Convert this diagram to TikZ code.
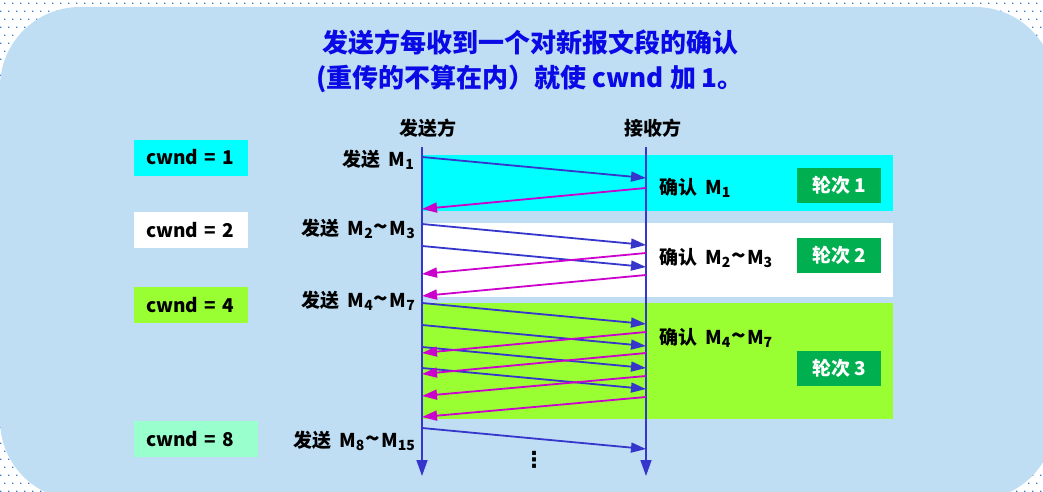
\documentclass[tikz,border=0pt]{standalone}
\usepackage{fontspec}
\setmainfont{Noto Sans CJK SC}
\newfontfamily\dotsfont{DejaVu Sans}
\usetikzlibrary{arrows.meta,positioning,patterns}
\definecolor{backblue}{HTML}{BFDEF3}
\definecolor{dotblue}{HTML}{3A7BD5}
\definecolor{titleblue}{HTML}{0A0AE6}
\definecolor{msgblue}{HTML}{3636CC}
\definecolor{ackpink}{HTML}{CC00CC}
\definecolor{bandcyan}{HTML}{00FFFF}
\definecolor{bandgreen}{HTML}{99FF33}
\definecolor{mint}{HTML}{99FFCC}
\definecolor{roundgreen}{HTML}{00B050}
\newcommand{\msub}[1]{\raisebox{-0.3ex}{\fontsize{14pt}{14pt}\selectfont #1}}
\newcommand{\wavy}{\hspace{1pt}{\fontsize{24pt}{24pt}\selectfont\textasciitilde}\hspace{1pt}}
\newcommand{\gap}{\hspace{8pt}}
\pgfdeclarepatternformonly{bgdots}{\pgfqpoint{-1pt}{-1pt}}{\pgfqpoint{9pt}{17pt}}{\pgfqpoint{8pt}{16pt}}{%
  \pgfpathrectangle{\pgfqpoint{0pt}{0pt}}{\pgfqpoint{1.3pt}{1.3pt}}%
  \pgfpathrectangle{\pgfqpoint{4pt}{8pt}}{\pgfqpoint{1.3pt}{1.3pt}}%
  \pgfusepath{fill}}
\begin{document}
\begin{tikzpicture}[x=1pt, y=-1pt, every node/.style={font=\fontsize{19pt}{22pt}\selectfont\bfseries, inner sep=0pt},
  msg/.style={-{Triangle[length=15pt,width=10pt]}, msgblue, line width=1.8pt},
  ack/.style={-{Triangle[length=15pt,width=10pt]}, ackpink, line width=1.8pt},
  life/.style={-{Triangle[length=16pt,width=11pt]}, msgblue, line width=1.6pt},
  cwndbox/.style={anchor=west, minimum height=36pt, inner xsep=12pt, text width=90pt, align=left},
  roundbox/.style={fill=roundgreen, text=white, minimum width=84pt, minimum height=35pt}]
\useasboundingbox (0,0) rectangle (1043,492);
\clip (0,0) rectangle (1043,492);
% page background
\fill[white] (0,0) rectangle (1043,492);
\fill[pattern=bgdots, pattern color=dotblue] (0,0) rectangle (1043,492);
\fill[backblue, rounded corners=80pt] (0,7) rectangle (1055,500);
\node[font=\fontsize{26pt}{35pt}\selectfont\bfseries, text=titleblue, align=center] (title) at (530,61)
  {发送方每收到一个对新报文段的确认\\(重传的不算在内）就使 cwnd 加 1。};
% rounds
\fill[bandcyan] (422,155) rectangle (893,211);
\fill[white] (422,223) rectangle (893,297);
\fill[bandgreen] (422,303) rectangle (893,419);
\node (sendhd) at (428,128) {发送方};
\node (recvhd) at (653,128) {接收方};
\coordinate (stop) at (422,147); \coordinate (sbot) at (422,476);
\coordinate (rtop) at (646,147); \coordinate (rbot) at (646,476);
\draw[life] (stop) -- (sbot);
\draw[life] (rtop) -- (rbot);
% segments
\coordinate (m1s) at (422,157); \coordinate (m1r) at (646,178);
\coordinate (m2s) at (422,224); \coordinate (m2r) at (646,245);
\coordinate (m3s) at (422,246); \coordinate (m3r) at (646,267);
\coordinate (m4s) at (422,303); \coordinate (m4r) at (646,324);
\coordinate (m5s) at (422,325); \coordinate (m5r) at (646,346);
\coordinate (m6s) at (422,347); \coordinate (m6r) at (646,368);
\coordinate (m7s) at (422,368); \coordinate (m7r) at (646,389);
\coordinate (m8s) at (422,428); \coordinate (m8r) at (646,449);
\draw[msg] (m1s) -- (m1r);
\draw[msg] (m2s) -- (m2r);
\draw[msg] (m3s) -- (m3r);
\draw[msg] (m4s) -- (m4r);
\draw[msg] (m5s) -- (m5r);
\draw[msg] (m6s) -- (m6r);
\draw[msg] (m7s) -- (m7r);
\draw[msg] (m8s) -- (m8r);
% acks
\coordinate (a1r) at (646,188); \coordinate (a1s) at (422,209);
\coordinate (a2r) at (646,253); \coordinate (a2s) at (422,274);
\coordinate (a3r) at (646,275); \coordinate (a3s) at (422,296);
\coordinate (a4r) at (646,332); \coordinate (a4s) at (422,353);
\coordinate (a5r) at (646,353); \coordinate (a5s) at (422,374);
\coordinate (a6r) at (646,376); \coordinate (a6s) at (422,396);
\coordinate (a7r) at (646,397); \coordinate (a7s) at (422,417);
\draw[ack] (a1r) -- (a1s);
\draw[ack] (a2r) -- (a2s);
\draw[ack] (a3r) -- (a3s);
\draw[ack] (a4r) -- (a4s);
\draw[ack] (a5r) -- (a5s);
\draw[ack] (a6r) -- (a6s);
\draw[ack] (a7r) -- (a7s);
% labels
\node[anchor=base east] (send1) at (414,166) {发送\gap M\msub{1}};
\node[anchor=base east] (send2) at (415,235) {发送\gap M\msub{2}\wavy M\msub{3}};
\node[anchor=base east] (send4) at (415,307) {发送\gap M\msub{4}\wavy M\msub{7}};
\node[anchor=base east] (send8) at (415,447) {发送\gap M\msub{8}\wavy M\msub{15}};
\node[anchor=base west] (conf1) at (659,194) {确认\gap M\msub{1}};
\node[anchor=base west] (conf2) at (659,264) {确认\gap M\msub{2}\wavy M\msub{3}};
\node[anchor=base west] (conf4) at (659,344) {确认\gap M\msub{4}\wavy M\msub{7}};
\node[cwndbox, fill=bandcyan] (cw1) at (134,157.5) {cwnd = 1};
\node[cwndbox, fill=white] (cw2) at (134,230) {cwnd = 2};
\node[cwndbox, fill=bandgreen] (cw4) at (134,305) {cwnd = 4};
\node[cwndbox, fill=mint, text width=100pt] (cw8) at (134,439) {cwnd = 8};
\node[roundbox] (rnd1) at (839,185.5) {轮次 1};
\node[roundbox] (rnd2) at (839,255.5) {轮次 2};
\node[roundbox] (rnd3) at (839,368) {轮次 3};
\node[font=\dotsfont\bfseries\fontsize{22pt}{22pt}\selectfont] (more) at (534,460) {⋮};
\end{tikzpicture}
\end{document}
